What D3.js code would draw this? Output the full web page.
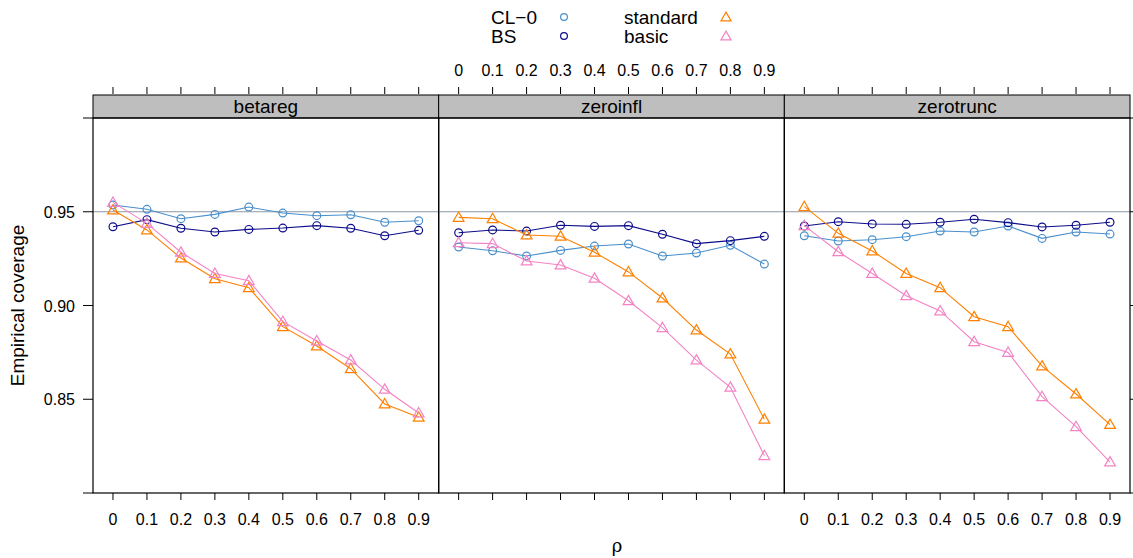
<!DOCTYPE html>
<html>
<head>
<meta charset="utf-8">
<script src="https://cdn.jsdelivr.net/npm/d3@7"></script>
<style>
  body { margin: 0; background: #fff; }
  text { font-family: "Liberation Sans", Arial, sans-serif; fill: #000; }
</style>
</head>
<body>
<div id="canvas"></div>
<script>
// rho values on the x axis
const rho = [0, 0.1, 0.2, 0.3, 0.4, 0.5, 0.6, 0.7, 0.8, 0.9];
const panels = ['betareg', 'zeroinfl', 'zerotrunc'];
const methods = ['CL-0', 'BS', 'standard', 'basic'];
const yTicks = [0.80, 0.85, 0.90, 0.95, 1.00];
const yLabels = [0.85, 0.90, 0.95];

// empirical coverage, per panel, per method
const cl0 = {
  betareg:   [0.9536, 0.9513, 0.9463, 0.9486, 0.9525, 0.9493, 0.9479, 0.9484, 0.9444, 0.9452],
  zeroinfl:  [0.9312, 0.9292, 0.9264, 0.9294, 0.9317, 0.9328, 0.9264, 0.9280, 0.9321, 0.9221],
  zerotrunc: [0.9372, 0.9344, 0.9351, 0.9367, 0.9397, 0.9392, 0.9424, 0.9358, 0.9392, 0.9381]
};
const bs = {
  betareg:   [0.9420, 0.9458, 0.9412, 0.9392, 0.9406, 0.9413, 0.9426, 0.9412, 0.9372, 0.9401],
  zeroinfl:  [0.9388, 0.9403, 0.9397, 0.9428, 0.9422, 0.9426, 0.9380, 0.9330, 0.9346, 0.9369],
  zerotrunc: [0.9424, 0.9447, 0.9435, 0.9433, 0.9444, 0.9460, 0.9442, 0.9419, 0.9428, 0.9444]
};
const standard = {
  betareg:   [0.9509, 0.9403, 0.9253, 0.9143, 0.9095, 0.8887, 0.8784, 0.8663, 0.8475, 0.8404],
  zeroinfl:  [0.9470, 0.9463, 0.9376, 0.9369, 0.9284, 0.9179, 0.9040, 0.8869, 0.8741, 0.8393],
  zerotrunc: [0.9527, 0.9385, 0.9291, 0.9171, 0.9095, 0.8940, 0.8887, 0.8677, 0.8528, 0.8365]
};
const basic = {
  betareg:   [0.9550, 0.9438, 0.9284, 0.9171, 0.9132, 0.8914, 0.8811, 0.8709, 0.8553, 0.8427],
  zeroinfl:  [0.9335, 0.9330, 0.9237, 0.9216, 0.9145, 0.9025, 0.8882, 0.8709, 0.8564, 0.8199],
  zerotrunc: [0.9426, 0.9287, 0.9171, 0.9052, 0.8971, 0.8807, 0.8750, 0.8514, 0.8354, 0.8165]
};

const colors = { 'CL-0': '#4a8fcb', 'BS': '#0c0c8a', 'standard': '#ff8000', 'basic': '#f383c4' };
const series = [
  { name: 'CL-0', data: cl0, shape: 'circle' },
  { name: 'BS', data: bs, shape: 'circle' },
  { name: 'standard', data: standard, shape: 'triangle' },
  { name: 'basic', data: basic, shape: 'triangle' }
];

const width = 1133, height = 558;
const plotL = 93, plotR = 1130, plotT = 118, plotB = 493;
const stripH = 23;
const panelW = (plotR - plotL) / panels.length;

const svg = d3.select('#canvas').append('svg')
  .attr('width', width).attr('height', height);

const y = d3.scaleLinear().domain([0.80, 1.00]).range([plotB, plotT]);

const tri = d3.symbol().type(d3.symbolTriangle).size(50);

panels.forEach((p, i) => {
  const x0 = plotL + i * panelW;
  const x = d3.scaleLinear().domain([-0.0588, 0.9588]).range([x0, x0 + panelW]);
  const g = svg.append('g');

  // strip
  g.append('rect')
    .attr('x', x0).attr('y', plotT - stripH).attr('width', panelW).attr('height', stripH)
    .attr('fill', '#bebebe').attr('stroke', '#000').attr('stroke-width', 1);
  g.append('text')
    .attr('x', x0 + panelW / 2).attr('y', plotT - 5)
    .attr('text-anchor', 'middle').style('font-size', '19px').text(p);

  // reference line
  g.append('line')
    .attr('x1', x0).attr('x2', x0 + panelW)
    .attr('y1', y(0.95)).attr('y2', y(0.95))
    .attr('stroke', '#8c99a6').attr('stroke-width', 1.2);

  // top ticks (above strip)
  g.selectAll('.tt').data(rho).enter().append('line')
    .attr('x1', d => x(d)).attr('x2', d => x(d))
    .attr('y1', plotT - stripH - 1).attr('y2', plotT - stripH - 8)
    .attr('stroke', '#000');
  // bottom ticks
  g.selectAll('.bt').data(rho).enter().append('line')
    .attr('x1', d => x(d)).attr('x2', d => x(d))
    .attr('y1', plotB).attr('y2', plotB + 7)
    .attr('stroke', '#000');

  if (i === 1) {
    g.selectAll('.tl').data(rho).enter().append('text')
      .attr('x', d => x(d)).attr('y', 76)
      .attr('text-anchor', 'middle').style('font-size', '16px').text(d => d);
  } else {
    g.selectAll('.bl').data(rho).enter().append('text')
      .attr('x', d => x(d)).attr('y', 525)
      .attr('text-anchor', 'middle').style('font-size', '16px').text(d => d);
  }

  // series
  series.forEach(s => {
    const vals = s.data[p];
    const line = d3.line().x((d, j) => x(rho[j])).y(d => y(d));
    g.append('path').datum(vals)
      .attr('d', line).attr('fill', 'none')
      .attr('stroke', colors[s.name]).attr('stroke-width', 1.1);
    if (s.shape === 'circle') {
      g.selectAll(null).data(vals).enter().append('circle')
        .attr('cx', (d, j) => x(rho[j])).attr('cy', d => y(d)).attr('r', 3.9)
        .attr('fill', 'none').attr('stroke', colors[s.name]).attr('stroke-width', 1.2);
    } else {
      g.selectAll(null).data(vals).enter().append('path')
        .attr('d', tri)
        .attr('transform', (d, j) => `translate(${x(rho[j])},${y(d) + 0.8})`)
        .attr('fill', 'none').attr('stroke', colors[s.name]).attr('stroke-width', 1.2);
    }
  });

  // panel border
  g.append('rect')
    .attr('x', x0).attr('y', plotT).attr('width', panelW).attr('height', plotB - plotT)
    .attr('fill', 'none').attr('stroke', '#000').attr('stroke-width', 1.2);
});

// left axis ticks and labels
svg.selectAll('.ly').data(yTicks).enter().append('line')
  .attr('x1', plotL - 10).attr('x2', plotL)
  .attr('y1', d => y(d)).attr('y2', d => y(d)).attr('stroke', '#000');
svg.selectAll('.lyl').data(yLabels).enter().append('text')
  .attr('x', plotL - 18).attr('y', d => y(d) + 6)
  .attr('text-anchor', 'end').style('font-size', '16px').text(d => d.toFixed(2));
// right axis ticks
svg.selectAll('.ry').data(yTicks).enter().append('line')
  .attr('x1', plotR).attr('x2', plotR + 8)
  .attr('y1', d => y(d)).attr('y2', d => y(d)).attr('stroke', '#000');

// axis titles
svg.append('text')
  .attr('transform', `translate(24,${(plotT + plotB) / 2}) rotate(-90)`)
  .attr('text-anchor', 'middle').style('font-size', '19px').text('Empirical coverage');
svg.append('text')
  .attr('x', 617).attr('y', 552).attr('text-anchor', 'middle')
  .style('font-family', '"DejaVu Serif", serif')
  .style('font-size', '18px').text('ρ');

// legend
const legend = [
  { label: 'CL\u22120', key: 'CL-0', shape: 'circle', tx: 491, mx: 564, ty: 17 },
  { label: 'BS', key: 'BS', shape: 'circle', tx: 491, mx: 564, ty: 36 },
  { label: 'standard', key: 'standard', shape: 'triangle', tx: 624, mx: 726, ty: 17 },
  { label: 'basic', key: 'basic', shape: 'triangle', tx: 624, mx: 726, ty: 36 }
];
legend.forEach(l => {
  svg.append('text').attr('x', l.tx).attr('y', l.ty + 7)
    .style('font-size', '19px').text(l.label);
  if (l.shape === 'circle') {
    svg.append('circle').attr('cx', l.mx).attr('cy', l.ty).attr('r', 3.4)
      .attr('fill', 'none').attr('stroke', colors[l.key]).attr('stroke-width', 1.2);
  } else {
    svg.append('path').attr('d', d3.symbol().type(d3.symbolTriangle).size(45))
      .attr('transform', `translate(${l.mx},${l.ty + 1})`)
      .attr('fill', 'none').attr('stroke', colors[l.key]).attr('stroke-width', 1.2);
  }
});
</script>
</body>
</html>
